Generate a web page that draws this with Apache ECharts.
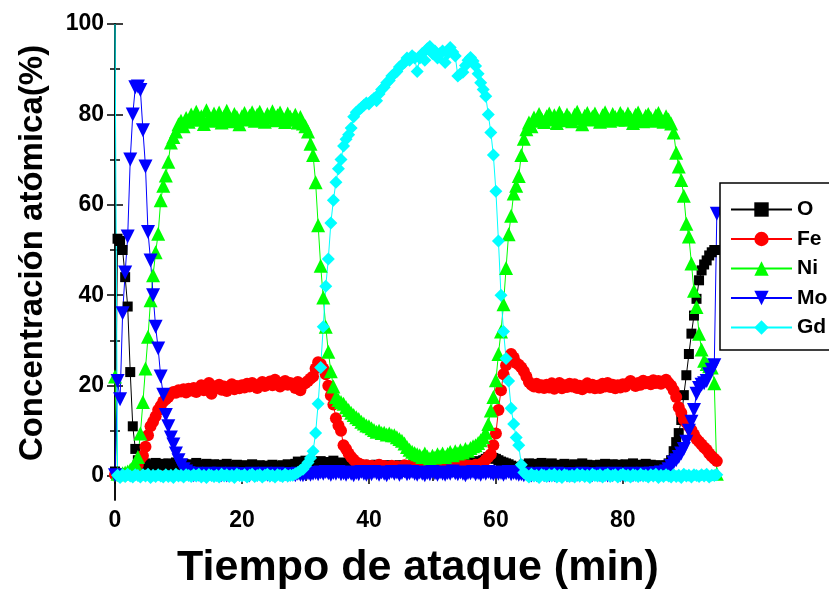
<!DOCTYPE html>
<html><head><meta charset="utf-8">
<script src="https://cdn.jsdelivr.net/npm/echarts@6/dist/echarts.min.js"></script>
<style>html,body{margin:0;padding:0;background:#fff}#c{width:829px;height:589px}</style>
</head><body><div id="c"></div>
<script>
// sampling step of the depth profile (minutes)
const dt = 0.4;
const xTicks = [0, 20, 40, 60, 80];
const xMinorTicks = [10, 30, 50, 70, 90];
const yTicks = [0, 20, 40, 60, 80, 100];
const yMinorTicks = [10, 30, 50, 70, 90];
const seriesNames = ['O', 'Fe', 'Ni', 'Mo', 'Gd'];

const O = [
1, 52.5, 52, 50, 44, 37.5, 23, 11, 6, 3.5,
2.5, 2.0, 2.8, 2.4, 2.6, 2.2, 2.9, 2.5, 2.3, 2.7,
2.4, 2.8, 2.1, 2.6, 3.0, 2.2, 2.5, 2.7, 2.0, 2.4,
2.6, 2.2, 2.9, 2.3, 2.5, 2.1, 2.7, 2.4, 2.0, 2.6,
2.3, 2.5, 1.9, 2.4, 2.7, 2.1, 2.3, 1.8, 2.5, 2.2,
2.0, 2.4, 1.8, 2.2, 2.6, 1.9, 2.1, 2.4, 1.7, 2.2,
2.3, 1.9, 2.5, 2.0, 2.2, 1.8, 2.4, 2.1, 2.6, 2.0,
2.2, 2.7, 3.2, 2.4, 2.8, 3.4, 2.5, 2.9, 2.2, 3.0,
2.6, 3.3, 2.8, 3.1, 2.4, 3.0, 3.4, 2.7, 2.5, 3.0,
2.3, 2.8, 2.1, 2.6, 2.0, 2.4, 2.2, 1.9, 2.5, 2.1,
1.8, 2.3, 2.0, 2.5, 1.7, 2.2, 1.9, 2.4, 2.1, 1.8,
2.2, 1.9, 2.4, 2.0, 1.7, 2.3, 2.1, 1.8, 2.5, 2.0,
2.3, 1.9, 2.6, 2.1, 2.4, 2.0, 2.7, 2.2, 2.5, 2.1,
2.4, 2.8, 2.2, 2.6, 2.3, 2.9, 2.5, 2.7, 2.4, 3.0,
2.6, 3.1, 2.8, 3.3, 3.0, 3.5, 3.8, 4.2, 4.4, 4.0,
3.8, 3.5, 3.2, 3.0, 2.8, 2.6, 2.3, 2.0, 1.8, 1.9,
2.1, 2.5, 2.3, 2.8, 2.4, 2.7, 2.2, 2.6, 2.9, 2.4,
2.6, 2.2, 2.8, 2.4, 2.0, 2.5, 2.3, 2.7, 2.1, 2.4,
2.2, 2.6, 2.0, 2.4, 2.8, 2.1, 2.5, 2.3, 1.9, 2.4,
2.1, 2.5, 2.2, 2.7, 2.0, 2.4, 2.6, 2.2, 2.5, 2.0,
2.3, 2.6, 2.1, 2.4, 2.8, 2.2, 2.5, 2.0, 2.4, 2.7,
2.2, 2.5, 2.1, 2.4, 2.0, 2.3, 2.0, 2.4, 2.8, 3.5,
5.5, 7.5, 9.5, 12.4, 17.9, 22.3, 27, 31.5, 35.5, 39.2,
43.3, 45.5, 46.8, 47.7, 48.8, 49.5, 50, 50
];

const Fe = [
0.3, 0.2, 0.4, 0.3, 0.5, 0.4, 0.6, 0.8, 1.2, 2.5,
3.8, 4.5, 6.5, 9.0, 11.0, 12.0, 13.2, 14.6, 15.5, 16.5,
17.0, 17.5, 18.2, 18.6, 18.4, 19.0, 18.7, 19.2, 18.5, 19.3,
18.9, 19.5, 18.6, 19.2, 20.1, 19.0, 19.6, 20.6, 18.2, 19.8,
19.4, 20.2, 19.1, 19.8, 18.8, 19.5, 20.3, 19.2, 19.9, 19.4,
20.1, 19.6, 20.4, 19.8, 20.6, 20.0, 19.5, 20.3, 20.8, 19.9,
20.4, 20.9, 20.1, 21.3, 20.5, 19.8, 20.7, 21.0, 20.2, 20.6,
20.3, 19.5, 20.8, 19.0, 20.2, 20.6, 21.0, 21.6, 22.0, 23.8,
25.2, 24.8, 23.8, 22.5, 20.0, 17.8, 15.8, 12.8, 11.2, 10.0,
6.8, 6.0, 5.0, 4.2, 3.6, 3.0, 2.8, 2.5, 2.2, 2.4,
2.0, 2.3, 1.8, 2.1, 2.5, 1.9, 2.2, 1.7, 2.0, 2.3,
1.8, 2.1, 1.6, 2.0, 2.4, 1.9, 2.2, 1.7, 2.1, 1.9,
2.2, 1.8, 2.0, 2.5, 1.9, 2.2, 1.7, 2.1, 2.4, 1.9,
2.1, 1.8, 2.3, 2.0, 2.4, 1.9, 2.2, 2.6, 2.0, 2.3,
2.3, 2.0, 2.5, 2.2, 2.6, 3.0, 3.6, 4.2, 4.8, 6.8,
9.4, 14.6, 19.0, 22.5, 24.5, 26.0, 27.0, 26.2, 25.0, 24.6,
24.0, 23.2, 22.0, 20.8, 20.2, 19.8, 20.4, 19.6, 20.1, 19.5,
20.2, 19.6, 20.5, 19.3, 20.0, 20.6, 19.4, 20.1, 19.7, 20.4,
19.8, 20.3, 19.5, 20.0, 19.2, 19.9, 20.5, 19.6, 20.2, 19.4,
20.0, 19.5, 20.4, 19.8, 20.6, 19.7, 20.2, 19.4, 20.1, 19.6,
20.3, 19.8, 20.5, 21.0, 20.4, 19.9, 20.6, 20.2, 21.1, 20.5,
20.8, 20.3, 21.2, 20.6, 21.0, 20.4, 20.9, 21.3, 20.6, 20.0,
19.0, 17.5, 15.2, 14.0, 12.5, 11.8, 11.0, 10.2, 9.2, 8.2,
7.6, 7.0, 6.3, 5.8, 5.0, 4.4, 3.8, 3.3
];

const Ni = [
22, 0.5, 0.4, 0.6, 0.8, 1.0, 1.4, 2.0, 2.8, 4.2,
9.4, 16.4, 23.8, 30.8, 38.9, 44.4, 49.5, 53.6, 61.0, 64.2,
66.5, 69.5, 73.8, 75.0, 76.2, 77.8, 78.6, 77.4, 79.2, 78.4,
80.0, 79.0, 80.6, 78.8, 79.6, 77.9, 80.9, 79.3, 78.6, 80.2,
79.1, 80.4, 78.2, 79.6, 80.8, 79.0, 78.5, 80.1, 79.4, 77.8,
79.6, 80.3, 78.9, 79.7, 80.5, 78.6, 79.9, 80.6, 79.2, 78.4,
80.1, 79.3, 80.7, 78.7, 79.8, 80.4, 79.1, 78.3, 80.2, 79.5,
78.8, 79.9, 78.2, 79.4, 78.0, 77.4, 76.2, 73.5, 71.0, 65.0,
55.5, 46.5, 39.5, 33.0, 27.5, 23.2, 19.8, 17.5, 16.8, 16.4,
16.0, 15.2, 14.6, 14.0, 13.5, 13.0, 12.6, 12.0, 11.6, 11.2,
11.0, 10.6, 10.2, 9.8, 10.0, 9.5, 9.6, 9.2, 9.4, 9.0,
9.0, 8.6, 8.2, 7.8, 7.2, 6.4, 5.8, 5.4, 5.1, 4.8,
4.6, 4.2, 5.0, 4.3, 3.9, 4.5, 4.1, 4.8, 4.4, 5.0,
4.2, 4.9, 5.3, 4.6, 5.5, 5.0, 5.7, 5.2, 6.0, 5.6,
6.2, 6.6, 6.8, 7.3, 7.9, 8.6, 9.6, 11.5, 14.5, 17.5,
21.2, 27.0, 32.0, 38.0, 46.0, 53.5, 57.6, 62.5, 64.2, 66.4,
71.0, 74.6, 76.7, 78.2, 77.4, 79.3, 78.6, 80.1, 79.0, 78.3,
79.6, 80.2, 78.9, 79.8, 78.1, 80.4, 79.3, 78.7, 80.0, 79.2,
78.5, 79.9, 80.6, 79.1, 77.8, 79.7, 80.3, 78.9, 79.5, 80.2,
79.0, 78.4, 79.8, 80.5, 79.2, 78.6, 80.1, 79.4, 78.9, 80.3,
79.6, 78.8, 80.2, 79.3, 78.1, 79.9, 80.4, 79.0, 78.5, 79.7,
80.1, 79.2, 78.6, 79.8, 80.3, 79.0, 78.4, 79.6, 78.9, 78.0,
76.0, 71.5, 68.5, 65.5, 62.0, 55.8, 53.0, 47.0, 41.0, 37.4,
31.5, 28.0, 25.5, 24.8, 24.3, 24.0, 20.5, 0.5
];

const Mo = [
0.2, 21, 17, 36, 45, 53, 70, 80, 86, 86.2,
85.4, 76.5, 68.5, 54, 47.7, 40, 33, 28.2, 22, 18,
13.5, 11, 8.5, 7, 5, 3.5, 2.4, 1.5, 1.0, 0.6,
0.4, 0.2, 0.5, 0.3, 0.1, 0.4, 0.2, 0.5, 0.3, 0.2,
0.3, 0.5, 0.2, 0.4, 0.1, 0.3, 0.5, 0.2, 0.4, 0.3,
0.2, 0.4, 0.3, 0.1, 0.5, 0.2, 0.3, 0.4, 0.2, 0.5,
0.3, 0.1, 0.4, 0.2, 0.5, 0.3, 0.2, 0.4, 0.1, 0.3,
0.4, 0.2, 0.5, 0.3, 0.2, 0.4, 0.6, 0.3, 0.5, 0.7,
0.4, 0.8, 0.5, 0.9, 0.6, 0.3, 0.7, 0.5, 0.9, 0.4,
0.6, 0.3, 0.8, 0.5, 0.2, 0.7, 0.4, 0.9, 0.5, 0.3,
0.7, 0.4, 0.9, 0.6, 0.3, 0.8, 0.5, 0.2, 0.6, 0.9,
0.5, 0.8, 0.3, 0.7, 1.0, 0.4, 0.6, 0.9, 0.5, 0.3,
0.8, 0.5, 0.2, 0.7, 0.4, 0.9, 0.6, 0.3, 0.8, 0.5,
0.3, 0.7, 0.5, 1.0, 0.6, 0.4, 0.8, 0.5, 0.2, 0.7,
0.6, 0.9, 0.4, 0.7, 0.3, 0.8, 0.5, 0.9, 0.6, 0.4,
0.8, 0.5, 0.7, 0.3, 0.6, 0.9, 0.4, 0.7, 0.5, 0.3,
0.4, 0.2, 0.5, 0.3, 0.1, 0.4, 0.2, 0.3, 0.5, 0.2,
0.3, 0.1, 0.4, 0.2, 0.5, 0.3, 0.2, 0.4, 0.1, 0.3,
0.2, 0.4, 0.3, 0.1, 0.5, 0.2, 0.4, 0.3, 0.2, 0.4,
0.3, 0.2, 0.5, 0.3, 0.1, 0.4, 0.2, 0.5, 0.3, 0.2,
0.4, 0.2, 0.3, 0.5, 0.2, 0.4, 0.1, 0.3, 0.5, 0.3,
0.3, 0.5, 0.2, 0.6, 0.4, 0.8, 0.6, 1.0, 1.5, 2.2,
3.0, 3.5, 4.2, 5.0, 6.0, 7.6, 10.0, 12.0, 14.6, 18.2,
19.5, 20.2, 20.5, 21.0, 22.5, 23.5, 24.5, 58
];

const Gd = [
100, 0.2, -0.3, 0.3, -0.1, 0.4, 0.0, -0.2, 0.3, 0.1,
-0.2, 0.3, 0.0, 0.4, -0.3, 0.2, -0.1, 0.3, 0.0, -0.2,
0.3, -0.1, 0.2, -0.3, 0.4, 0.0, 0.2, -0.2, 0.3, 0.1,
-0.1, 0.3, 0.0, 0.4, -0.2, 0.2, -0.3, 0.3, 0.1, -0.1,
0.2, -0.2, 0.4, 0.0, 0.3, -0.1, 0.2, -0.3, 0.4, 0.1,
0.0, 0.3, -0.2, 0.2, 0.4, -0.1, 0.1, 0.3, -0.2, 0.2,
0.4, 0.0, 0.2, -0.2, 0.3, 0.1, -0.1, 0.4, 0.0, 0.2,
0.2, 0.5, 0.8, 1.2, 1.5, 2.2, 3.0, 4.0, 5.5, 9.5,
16, 24, 33, 42, 48, 56, 61, 65, 68, 70,
73, 74.5, 75.5, 77, 79.5, 80.5, 81, 81.5, 82, 82.5,
82.3, 83, 83.5, 83, 84.5, 85.5, 86, 87, 87.5, 88.5,
89.0, 89.5, 90.5, 91, 91.5, 92.5, 92, 93, 92.5, 89.5,
92.5, 93.5, 92, 94.5, 95, 93.5, 94, 92.5, 93.5, 94,
91.5, 93.5, 94.8, 93.8, 92.9, 88.5, 89.0, 89.3, 90.8, 92.0,
92.6, 91.8, 90.7, 89.0, 87.0, 85.5, 84.0, 80.0, 76.0, 71.0,
63, 52, 40, 32, 26, 21, 15, 11.5, 8.5, 6.8,
2.5, 0.8, 0.3, -0.2, 0.4, 0.0, 0.2, -0.3, 0.3, 0.1,
-0.1, 0.3, 0.0, 0.4, -0.2, 0.2, -0.3, 0.3, 0.1, -0.1,
0.2, -0.2, 0.4, 0.0, 0.3, -0.1, 0.2, -0.3, 0.4, 0.1,
0.0, 0.3, -0.2, 0.2, 0.4, -0.1, 0.1, 0.3, -0.2, 0.2,
0.4, 0.0, 0.2, -0.2, 0.3, 0.1, -0.1, 0.4, 0.0, 0.2,
-0.2, 0.3, 0.0, 0.4, -0.3, 0.2, -0.1, 0.3, 0.0, -0.2,
0.3, -0.1, 0.2, -0.3, 0.4, 0.0, 0.2, -0.2, 0.3, 0.1,
-0.1, 0.3, 0.0, 0.4, -0.2, 0.2, 0.1, 0.3
];

const FONT = '"Liberation Sans", Arial, sans-serif';
// the very first Gd reading sits on the top-left corner of the frame and shows no marker there
const pair = (arr, hideFirst) => arr.map((v, i) => {
  const p = [Math.round(i * dt * 10) / 10, v];
  return (hideFirst && i === 0) ? { value: p, symbol: 'none' } : p;
});

const lineOn = { show: true, lineStyle: { color: '#000', width: 1.5 } };
function xAx(pos, ticks, len, labels, line) {
  return {
    type: 'value', min: 0, max: 95.3, position: pos, gridIndex: 0,
    axisLine: line ? lineOn : { show: false },
    axisTick: { show: true, inside: true, length: len, customValues: ticks, lineStyle: { color: '#000', width: 1.5 } },
    axisLabel: labels ? { show: true, customValues: ticks, fontSize: 23, fontWeight: 'bold', color: '#000', fontFamily: FONT, margin: 9 } : { show: false },
    splitLine: { show: false }
  };
}
function yAx(pos, ticks, len, labels, line) {
  return {
    type: 'value', min: -5.3, max: 100, position: pos, gridIndex: 0,
    axisLine: line ? lineOn : { show: false },
    axisTick: { show: true, inside: true, length: len, customValues: ticks, lineStyle: { color: '#000', width: 1.5 } },
    axisLabel: labels ? { show: true, customValues: ticks, fontSize: 23, fontWeight: 'bold', color: '#000', fontFamily: FONT, margin: 11 } : { show: false },
    splitLine: { show: false }
  };
}

const styles = [
  { name: 'O', data: O, color: '#000000', symbol: 'rect', size: 10, rot: 0 },
  { name: 'Fe', data: Fe, color: '#ff0000', symbol: 'circle', size: 12, rot: 0 },
  { name: 'Ni', data: Ni, color: '#00ff00', symbol: 'triangle', size: 14, rot: 0 },
  { name: 'Mo', data: Mo, color: '#0000ff', symbol: 'triangle', size: 14, rot: 180 },
  { name: 'Gd', data: Gd, color: '#00ffff', symbol: 'diamond', size: 13, rot: 0 }
];

const chart = echarts.init(document.getElementById('c'), null, { renderer: 'canvas' });
chart.setOption({
  animation: false,
  backgroundColor: '#fff',
  grid: { left: 115, right: 109, top: 24, bottom: 89, containLabel: false },
  xAxis: [
    xAx('bottom', xTicks, 8, true, true),
    xAx('bottom', xMinorTicks, 5, false, false),
    xAx('top', xTicks, 8, false, true),
    xAx('top', xMinorTicks, 5, false, false)
  ],
  yAxis: [
    yAx('left', yTicks, 8, true, true),
    yAx('left', yMinorTicks, 5, false, false),
    yAx('right', yTicks, 8, false, true),
    yAx('right', yMinorTicks, 5, false, false)
  ],
  legend: {
    data: seriesNames,
    orient: 'vertical', left: 720, top: 183,
    itemWidth: 61, itemHeight: 18, itemGap: 8.5,
    padding: [16, 14, 12, 10],
    borderColor: '#000', borderWidth: 1.5, borderRadius: 0,
    backgroundColor: '#fff',
    textStyle: { fontSize: 21, fontWeight: 'bold', fontFamily: FONT, color: '#000' }
  },
  graphic: [
    { type: 'text', x: 418, y: 568, style: { text: 'Tiempo de ataque (min)', font: 'bold 43px "Liberation Sans", Arial, sans-serif', fill: '#000', align: 'center', verticalAlign: 'middle' } },
    { type: 'text', x: 33, y: 253, rotation: Math.PI / 2, style: { text: 'Concentración atómica(%)', font: 'bold 33px "Liberation Sans", Arial, sans-serif', fill: '#000', align: 'center', verticalAlign: 'middle' } }
  ],
  series: styles.map(s => ({
    name: s.name, type: 'line', xAxisIndex: 0, yAxisIndex: 0,
    data: pair(s.data, s.name === 'Gd'),
    symbol: s.symbol, symbolSize: s.size, symbolRotate: s.rot,
    showAllSymbol: true,
    lineStyle: { color: s.color, width: 1 },
    itemStyle: { color: s.color, borderWidth: 0 },
    emphasis: { disabled: true }
  }))
});
</script></body></html>
